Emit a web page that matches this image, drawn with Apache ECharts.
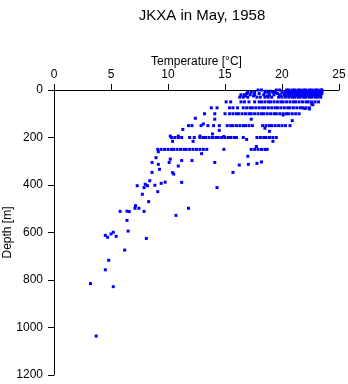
<!DOCTYPE html>
<html>
<head>
<meta charset="utf-8">
<script src="https://cdn.jsdelivr.net/npm/echarts@6/dist/echarts.min.js"></script>
<style>html,body{margin:0;padding:0;background:#fff}#c{width:348px;height:384px}</style>
</head>
<body>
<div id="c"></div>
<script>
// Temperatures (°C) read at each standard depth level (m)
const t0   = [17.9, 18.2, 19.5, 19.8, 20.4, 20.6, 20.9, 21.1, 21.4, 21.6, 21.9, 22.1, 22.4, 22.6, 22.9, 23.1, 23.4, 23.5];
const t5   = [18.6, 19.0, 20.5, 20.8, 21.0, 21.3, 21.5, 21.8, 22.0, 22.3, 22.5, 22.8, 23.0, 23.3, 23.5];
const t10  = [17.0, 17.3, 17.6, 18.5, 18.8, 19.2, 19.4, 20.0, 20.3, 20.6, 20.9, 21.1, 21.4, 21.6, 21.9, 22.1, 22.4, 22.6, 22.9, 23.1, 23.4];
const t15  = [16.9, 18.0, 19.6, 20.2, 20.5, 20.8, 21.0, 21.3, 21.5, 21.8, 22.0, 22.3, 22.5, 22.8, 23.0, 23.3, 23.5];
const t20  = [16.4, 16.7, 17.2, 17.6, 18.4, 18.9, 19.3, 19.8, 20.2, 20.4, 20.7, 20.9, 21.2, 21.4, 21.7, 21.9, 22.2, 22.4, 22.7, 22.9, 23.2, 23.4];
const t25  = [16.8, 17.5, 18.7, 19.9, 20.5, 20.8, 21.0, 21.3, 21.5, 21.8, 22.0, 22.3, 22.5, 22.8, 23.0, 23.3];
const t30  = [16.3, 16.6, 17.0, 17.8, 18.1, 18.5, 18.8, 19.1, 19.7, 20.0, 20.3, 20.6, 20.9, 21.1, 21.4, 21.6, 21.9, 22.1, 22.4, 22.6, 22.9, 23.1, 23.4];
const t50  = [15.1, 15.5, 16.4, 16.7, 17.1, 17.6, 18.0, 18.2, 18.5, 18.8, 19.0, 19.3, 19.6, 19.9, 20.1, 20.4, 20.7, 21.0, 21.2, 21.5, 21.8, 22.1, 22.3, 22.6, 22.9, 23.2];
const t75  = [13.8, 14.3, 15.4, 15.7, 16.1, 16.6, 16.9, 17.2, 17.4, 17.7, 18.0, 18.3, 18.5, 18.8, 19.1, 19.4, 19.6, 19.9, 20.2, 20.5, 20.7, 21.0, 21.3, 21.6, 21.8, 22.1, 22.4];
const t100 = [13.2, 14.1, 15.0, 15.4, 15.7, 16.0, 16.2, 16.5, 16.8, 17.1, 17.3, 17.6, 17.9, 18.2, 18.4, 18.7, 19.0, 19.3, 19.5, 19.8, 20.1, 20.4, 20.6, 20.9, 21.2, 21.5];
const t150 = [11.8, 12.1, 12.9, 13.5, 14.0, 14.5, 15.2, 15.5, 15.7, 16.0, 16.3, 16.6, 16.8, 17.1, 17.4, 18.3, 18.6, 18.9, 19.1, 19.4, 19.7, 20.0, 20.3, 20.7];
const t200 = [10.3, 10.6, 10.9, 11.2, 11.9, 12.3, 12.8, 13.1, 13.3, 13.6, 13.9, 14.2, 14.4, 14.7, 15.0, 15.3, 15.5, 15.8, 16.0, 16.6, 17.8, 18.1, 18.4, 18.6, 18.9, 19.2, 19.5];
const t250 = [9.1, 9.4, 9.7, 10.0, 10.3, 10.5, 10.8, 11.1, 11.4, 11.6, 11.9, 12.2, 12.5, 12.8, 13.1, 13.4, 14.9, 17.3, 17.6, 17.9, 18.2, 18.5, 18.7];

const levelDepths = [0, 5, 10, 15, 20, 25, 30, 50, 75, 100, 150, 200, 250];
const levelTemps  = [t0, t5, t10, t15, t20, t25, t30, t50, t75, t100, t150, t200, t250];

// Other observations [temperature, depth]
const otherPoints = [
  [22.7,62],[22.6,59],[22.0,78],[22.4,80],
  [12.4,119],[14.1,123],[17.3,123],[20.1,105],[20.9,129],[13.1,143],
  [18.5,161],[18.9,174],[14.5,170],[11.3,166],[13.9,185],
  [10.2,194],[10.9,194],[12.8,194],[14.9,196],[10.4,216],[12.2,216],[16.9,208],[19.2,216],
  [9.15,260],[12.95,268],[17.75,238],[17.0,279],
  [8.95,285],[10.2,291],[11.2,297],[12.1,297],[8.6,305],[10.1,305],[14.1,305],[9.15,313],[10.9,320],
  [9.25,334],[8.6,347],[10.4,348],[10.5,354],[16.25,316],[17.05,313],[17.8,309],[18.2,303],[15.7,347],
  [8.4,382],[8.85,401],[9.4,393],[9.75,388],[8.0,397],[8.2,403],[7.3,403],[7.9,411],[11.2,389],[14.3,411],
  [9.1,428],[7.75,439],[8.3,470],[11.8,498],[10.7,528],
  [5.8,511],[6.4,510],[6.6,512],[7.1,498],[7.15,487],[7.45,498],[7.9,511],[6.4,549],[6.5,594],
  [4.5,612],[4.7,620],[5.0,606],[5.2,599],[5.45,616],[8.1,625],[6.2,674],[4.8,717],[4.5,757],
  [3.2,815],[5.2,828],[3.7,1036]
];

const data = [];
levelTemps.forEach((arr, i) => arr.forEach(t => data.push([t, levelDepths[i]])));
otherPoints.forEach(p => data.push(p));

const font = 'Liberation Sans, Arial, Helvetica, sans-serif';
const chart = echarts.init(document.getElementById('c'), null, {renderer: 'canvas'});
chart.setOption({
  animation: false,
  backgroundColor: '#ffffff',
  title: {
    text: 'JKXA in May, 1958',
    left: 197, top: 3, textAlign: 'center',
    textStyle: {fontFamily: font, fontSize: 15, fontWeight: 'normal', color: '#000'}
  },
  grid: {left: 54, right: 9, top: 90, bottom: 9, containLabel: false, outerBoundsMode: 'none'},
  xAxis: {
    type: 'value', position: 'top', min: 0, max: 25, interval: 5,
    name: 'Temperature [°C]', nameLocation: 'middle', nameGap: 22, nameMoveOverlap: false,
    nameTextStyle: {fontFamily: font, fontSize: 12, color: '#000'},
    axisLine: {show: true, lineStyle: {color: '#000', width: 1}},
    axisTick: {show: true, length: 6, lineStyle: {color: '#000'}},
    axisLabel: {fontFamily: font, fontSize: 12, color: '#000', margin: 9, formatter: v => String(v)},
    splitLine: {show: false}
  },
  yAxis: {
    type: 'value', inverse: true, min: 0, max: 1200, interval: 200,
    name: 'Depth [m]', nameLocation: 'middle', nameGap: 40, nameMoveOverlap: false,
    nameTextStyle: {fontFamily: font, fontSize: 12, color: '#000'},
    axisLine: {show: true, lineStyle: {color: '#000', width: 1}},
    axisTick: {show: true, length: 6, lineStyle: {color: '#000'}},
    axisLabel: {fontFamily: font, fontSize: 12, color: '#000', margin: 11, formatter: v => String(v)},
    splitLine: {show: false}
  },
  series: [{
    type: 'scatter',
    symbol: 'rect',
    symbolSize: [3, 3],
    itemStyle: {color: '#0000ff', opacity: 1},
    data: data
  }]
});
</script>
</body>
</html>
